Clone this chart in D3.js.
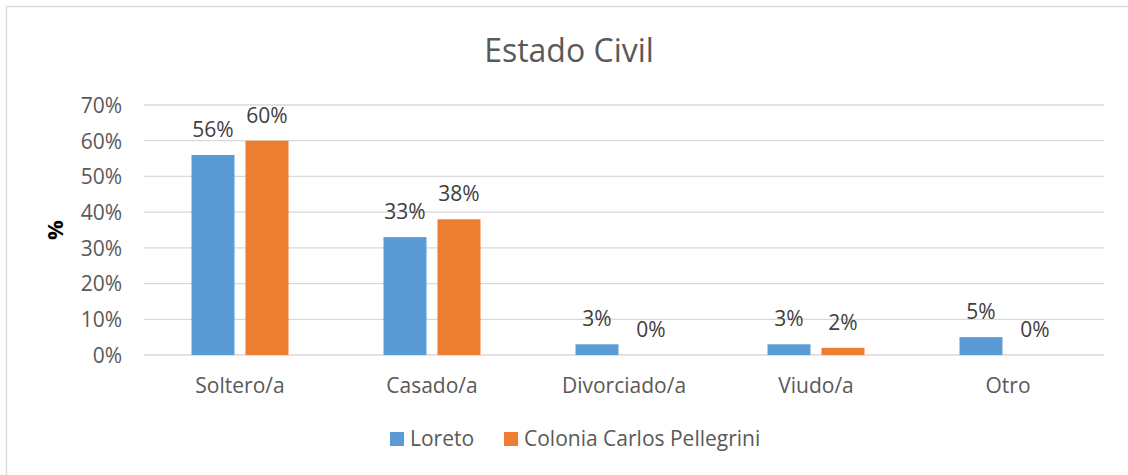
<!DOCTYPE html>
<html>
<head>
<meta charset="utf-8">
<script src="https://cdn.jsdelivr.net/npm/d3@7"></script>
<style>
  html, body { margin: 0; padding: 0; background: #fff; }
  svg { display: block; font-family: "Open Sans", sans-serif; }
</style>
</head>
<body>
<svg id="chart" width="1128" height="475"></svg>
<script>
const categories = ["Soltero/a", "Casado/a", "Divorciado/a", "Viudo/a", "Otro"];
const seriesNames = ["Loreto", "Colonia Carlos Pellegrini"];
const loretoValues = [0.56, 0.33, 0.03, 0.03, 0.05];
const coloniaValues = [0.60, 0.38, 0.00, 0.02, 0.00];
const yTicks = [0, 0.1, 0.2, 0.3, 0.4, 0.5, 0.6, 0.7];
const titleText = "Estado Civil";
const yAxisTitle = "%";
const colors = ["#5B9BD5", "#ED7D31"];

const seriesValues = [loretoValues, coloniaValues];
const data = categories.map((c, i) => ({
  category: c,
  values: seriesNames.map((s, j) => ({ series: s, value: seriesValues[j][i], idx: j }))
}));

const svg = d3.select("#chart");
const W = 1128, H = 475;
const plot = { left: 144, right: 1104, top: 105, bottom: 355 };

// chart border
svg.append("rect")
  .attr("x", 6.5).attr("y", 6.5)
  .attr("width", W + 10).attr("height", H + 10)
  .attr("fill", "none").attr("stroke", "#d9d9d9").attr("stroke-width", 1.3);

const y = d3.scaleLinear().domain([0, 0.7]).range([plot.bottom, plot.top]);
const x0 = d3.scaleBand().domain(categories).range([plot.left, plot.right]).padding(0);
const x1 = d3.scaleBand().domain(seriesNames).range([0, x0.bandwidth()])
  .paddingInner(11 / 54).paddingOuter(0.8796);

const color = d3.scaleOrdinal().domain(seriesNames).range(colors);

// gridlines
svg.append("g")
  .selectAll("line")
  .data(yTicks)
  .join("line")
  .attr("x1", plot.left).attr("x2", plot.right)
  .attr("y1", d => y(d)).attr("y2", d => y(d))
  .attr("stroke", "#d9d9d9").attr("stroke-width", 1.3);

// y axis labels
const yAxis = d3.axisLeft(y).tickValues(yTicks).tickFormat(d3.format(".0%")).tickSize(0).tickPadding(0);
const gy = svg.append("g").attr("transform", `translate(122,0)`).call(yAxis);
gy.select(".domain").remove();
gy.selectAll("text")
  .attr("font-family", "Open Sans, sans-serif")
  .attr("font-size", 21).attr("fill", "#595959").attr("dy", "0.35em");

// x axis labels
const xAxis = d3.axisBottom(x0).tickSize(0).tickPadding(0);
const gx = svg.append("g").attr("transform", `translate(0,${plot.bottom})`).call(xAxis);
gx.select(".domain").remove();
gx.selectAll("text")
  .attr("font-family", "Open Sans, sans-serif")
  .attr("font-size", 21).attr("fill", "#595959")
  .attr("y", 38).attr("dy", 0);

// bars
const groups = svg.append("g")
  .selectAll("g")
  .data(data)
  .join("g")
  .attr("transform", d => `translate(${x0(d.category)},0)`);

groups.selectAll("rect")
  .data(d => d.values)
  .join("rect")
  .attr("x", d => x1(d.series))
  .attr("width", x1.bandwidth())
  .attr("y", d => y(d.value))
  .attr("height", d => y(0) - y(d.value))
  .attr("fill", d => color(d.series));

groups.selectAll("text")
  .data(d => d.values)
  .join("text")
  .attr("x", d => x1(d.series) + x1.bandwidth() / 2)
  .attr("y", d => y(d.value) - 18)
  .attr("text-anchor", "middle")
  .attr("font-size", 21)
  .attr("fill", "#404040")
  .text(d => d3.format(".0%")(d.value));

// title
svg.append("text")
  .attr("x", 569).attr("y", 62)
  .attr("text-anchor", "middle")
  .attr("font-size", 32)
  .attr("fill", "#595959")
  .text(titleText);

// y axis title
svg.append("text")
  .attr("transform", "translate(63,230) rotate(-90)")
  .attr("text-anchor", "middle")
  .attr("font-size", 22)
  .attr("font-weight", "bold")
  .attr("fill", "#000")
  .text(yAxisTitle);

// legend
const legendX = [390, 504];
const legend = svg.append("g")
  .selectAll("g")
  .data(seriesNames)
  .join("g")
  .attr("transform", (d, i) => `translate(${legendX[i]},432)`);
legend.append("rect")
  .attr("width", 14).attr("height", 14)
  .attr("fill", d => color(d));
legend.append("text")
  .attr("x", 20).attr("y", 14)
  .attr("font-size", 21).attr("fill", "#595959")
  .text(d => d);
</script>
</body>
</html>
